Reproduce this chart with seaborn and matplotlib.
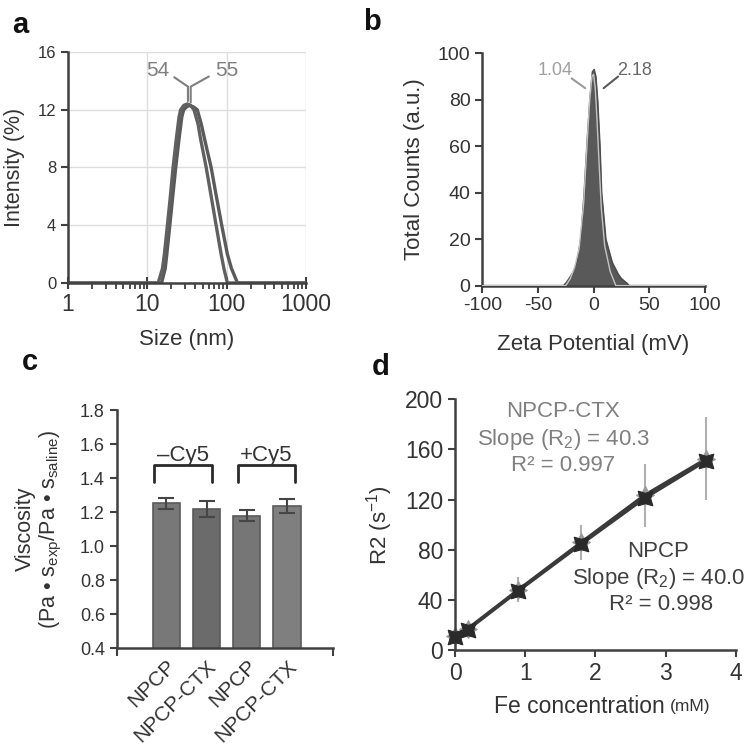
import numpy as np
import pandas as pd
import matplotlib
matplotlib.use("Agg")
import matplotlib.pyplot as plt
import matplotlib.transforms as mtransforms
import seaborn as sns
from matplotlib.ticker import FixedLocator, FormatStrFormatter, NullFormatter

# ---------------- data ----------------
# panel a : DLS size distributions
size_a1 = [1, 13.7, 15.5, 16.4, 17.9, 19.5, 21.1, 23.2, 25.1, 26.3, 28.8, 31.9, 35.1, 38.7, 43.6, 46.8,
           55.2, 63.8, 73.6, 85.1, 92.3, 102, 1000]
int_a1 = [0, 0, 1, 2, 4, 6, 8, 10, 11.5, 12, 12.3, 12.4, 12.3, 12, 11, 10,
          8, 6, 4, 2, 1, 0, 0]
size_a2 = [1, 15.1, 16.8, 17.6, 19.2, 20.9, 22.8, 25.1, 27.2, 28.7, 31.3, 34.1, 38.0, 42.6, 47.9, 52.5,
           63.7, 74.1, 86.6, 102, 115, 137, 1000]
int_a2 = [0, 0, 1, 2, 4, 6, 8, 10, 11.5, 12, 12.2, 12.3, 12.2, 12, 11, 10,
          8, 6, 4, 2, 1, 0, 0]
labels_a = ["54", "55"]

# panel b : zeta potential distributions
zeta_dark = [-100, -27, -25, -22, -18, -15, -11.4, -8.4, -6, -3.3, -1, 0.5, 2, 3.6, 5.7, 7.2, 11, 16.7, 22, 25, 30, 32, 100]
counts_dark = [0, 0, 1, 3, 6, 10, 20, 40, 60, 80, 92, 93, 90, 80, 60, 40, 20, 10, 5, 3, 1, 0, 0]
zeta_light = [-100, -25, -21, -17, -13, -9, -6, -3.5, -1.5, 0, 1.5, 3, 5, 7, 10, 15, 20, 100]
counts_light = [0, 0, 3, 8, 16, 35, 60, 80, 90, 91, 85, 72, 52, 33, 17, 6, 0, 0]
labels_b = ["1.04", "2.18"]

# panel c : viscosity
samples_c = ["NPCP", "NPCP-CTX", "NPCP", "NPCP-CTX"]
groups_c = ["\u2013Cy5", "+Cy5"]
visc = [1.252, 1.217, 1.179, 1.236]
visc_err = [0.032, 0.048, 0.033, 0.040]

# panel d : relaxivity
fe_conc = [0, 0.18, 0.9, 1.8, 2.7, 3.58]
r2_npcp = [10.5, 16, 47, 84.5, 121, 151]
r2_ctx = [11.5, 17, 48, 86, 123.5, 152.5]
r2_err = [3, 4, 10, 14, 25, 33]

# ---------------- style ----------------
sns.set_style("ticks")
plt.rcParams["font.family"] = ["Liberation Sans", "DejaVu Sans"]
plt.rcParams["mathtext.fontset"] = "custom"
plt.rcParams["mathtext.rm"] = "Liberation Sans"
plt.rcParams["mathtext.it"] = "Liberation Sans:italic"
plt.rcParams["axes.unicode_minus"] = False

DARK = "#404040"
TXT = "#333333"

fig = plt.figure(figsize=(7.5, 7.49), dpi=100)

def style_axes(ax):
    for s in ["top", "right"]:
        ax.spines[s].set_visible(False)
    for s in ["left", "bottom"]:
        ax.spines[s].set_color(DARK)
        ax.spines[s].set_linewidth(1.8)
    ax.tick_params(colors=DARK, labelcolor=TXT, width=1.5, length=5, direction="out")
    ax.set_facecolor("white")

# ---------------- panel a ----------------
axa = fig.add_axes([0.0907, 0.6222, 0.3173, 0.3084])
style_axes(axa)
axa.set_xscale("log")
axa.set_xlim(1, 1000)
axa.set_ylim(0, 16)
for v in [4, 8, 12, 16]:
    axa.axhline(v, color="#dedede", lw=1, zorder=0)
for v in [10, 100, 1000]:
    axa.axvline(v, color="#dedede", lw=1, zorder=0)
sns.lineplot(x=size_a2, y=int_a2, ax=axa, color="#5a5a5a", lw=2.4, sort=False, estimator=None)
sns.lineplot(x=size_a1, y=int_a1, ax=axa, color="#606060", lw=2.4, sort=False, estimator=None)
axa.xaxis.set_major_locator(FixedLocator([1, 10, 100, 1000]))
axa.set_xticklabels(["1", "10", "100", "1000"])
axa.xaxis.set_minor_formatter(NullFormatter())
axa.set_yticks([0, 4, 8, 12, 16])
axa.tick_params(axis="x", which="major", direction="inout", length=8, labelsize=16.5)
axa.tick_params(axis="x", which="minor", direction="out", length=4, width=1.3, colors=DARK)
axa.tick_params(axis="y", labelsize=12)
axa.set_xlabel("Size (nm)", fontsize=16, color=TXT)
axa.set_ylabel("Intensity (%)", fontsize=15.5, color=TXT)
axa.xaxis.set_label_coords(0.5, -0.2)
axa.yaxis.set_label_coords(-0.18, 0.5)
gray_lbl = "#7f7f7f"
axa.plot([21.8, 32.5, 32.5], [14.25, 13.6, 12.6], color=gray_lbl, lw=1.5, clip_on=False)
axa.plot([59.6, 35.2, 35.2], [14.3, 13.6, 12.5], color=gray_lbl, lw=1.5, clip_on=False)
axa.text(13.7, 14.75, labels_a[0], fontsize=15, color=gray_lbl, ha="center", va="center")
axa.text(100, 14.75, labels_a[1], fontsize=15, color=gray_lbl, ha="center", va="center")

# ---------------- panel b ----------------
axb = fig.add_axes([0.643, 0.6186, 0.2969, 0.3102])
style_axes(axb)
axb.set_xlim(-100, 100)
axb.set_ylim(0, 100)
axb.fill_between(zeta_light, counts_light, color="#cfcfcf", lw=0, zorder=1)
axb.fill_between(zeta_dark, counts_dark, color="#595959", lw=0, zorder=2)
sns.lineplot(x=zeta_dark, y=counts_dark, ax=axb, color="#4d4d4d", lw=1.2, sort=False, estimator=None, zorder=3)
sns.lineplot(x=zeta_light, y=counts_light, ax=axb, color="#c4c4c4", lw=1.0, sort=False, estimator=None, zorder=4)
axb.set_xticks([-100, -50, 0, 50, 100])
axb.set_yticks([0, 20, 40, 60, 80, 100])
axb.tick_params(labelsize=14)
axb.set_xlabel("Zeta Potential (mV)", fontsize=16, color=TXT)
axb.set_ylabel("Total Counts (a.u.)", fontsize=16, color=TXT)
axb.xaxis.set_label_coords(0.5, -0.21)
axb.yaxis.set_label_coords(-0.255, 0.5)
axb.plot([-19.7, -7.5], [89.2, 85], color="#9a9a9a", lw=1.5)
axb.plot([22, 9], [90, 85], color="#5a5a5a", lw=1.5)
axb.text(-34.7, 92.8, labels_b[0], fontsize=13, color="#a0a0a0", ha="center", va="center")
axb.text(37, 92.8, labels_b[1], fontsize=13, color="#6a6a6a", ha="center", va="center")

# ---------------- panel c ----------------
axc = fig.add_axes([0.1556, 0.1344, 0.2884, 0.3182])
style_axes(axc)
keys_c = [f"{i}" for i in range(len(visc))]
df_c = pd.DataFrame({"key": keys_c, "visc": visc})
bar_colors = ["#787878", "#6b6b6b", "#767676", "#7f7f7f"]
sns.barplot(data=df_c, x="key", y="visc", hue="key", palette=bar_colors, legend=False,
            width=0.68, ax=axc, edgecolor="#5a5a5a", linewidth=1.2, errorbar=None)
axc.errorbar(range(len(visc)), visc, yerr=visc_err, fmt="none", ecolor="#454545",
             elinewidth=1.5, capsize=6, capthick=1.5, zorder=5)
axc.set_xlim(-1.23, 4.14)
axc.set_ylim(0.4, 1.8)
axc.set_yticks(np.arange(0.4, 1.81, 0.2))
axc.yaxis.set_major_formatter(FormatStrFormatter("%.1f"))
axc.set_xticks(range(len(visc)))
axc.set_xticklabels(samples_c, rotation=45, ha="right", rotation_mode="anchor", fontsize=15, color=TXT)
shift = mtransforms.ScaledTranslation(5 / 72, 1.5 / 72, fig.dpi_scale_trans)
for t in axc.get_xticklabels():
    t.set_transform(t.get_transform() + shift)
axc.tick_params(axis="x", length=0, pad=6)
axc.tick_params(axis="y", labelsize=13)
axc.set_xticks([-1.23, 4.14], minor=True)
axc.tick_params(axis="x", which="minor", length=6, width=1.5, colors=DARK)
axc.set_xlabel("")
axc.set_ylabel("Viscosity\n(Pa \u2022 s$_{\\mathrm{exp}}$/Pa \u2022 s$_{\\mathrm{saline}}$)",
               fontsize=15.5, color=TXT, linespacing=1.1)
axc.yaxis.set_label_coords(-0.245, 0.5)
for (x0, x1), g in zip([(-0.305, 1.134), (1.77, 3.19)], groups_c):
    axc.plot([x0, x0, x1, x1], [1.379, 1.477, 1.477, 1.379], color="#2a2a2a", lw=2)
    axc.text((x0 + x1) / 2, 1.53, g, fontsize=16, color=TXT, ha="center", va="center")

# ---------------- panel d ----------------
axd = fig.add_axes([0.6067, 0.1322, 0.3743, 0.3347])
style_axes(axd)
axd.set_xlim(0, 4)
axd.set_ylim(0, 200)
axd.errorbar(fe_conc, r2_ctx, yerr=r2_err, fmt="none", ecolor="#b0b0b0", elinewidth=1.5, zorder=1)
sns.lineplot(x=fe_conc, y=r2_ctx, ax=axd, color="#3a3a3a", lw=2.2, marker=(4, 1, 0),
             markersize=13, markeredgecolor="#9a9a9a", markerfacecolor="#9a9a9a",
             sort=False, estimator=None, zorder=2)
sns.lineplot(x=fe_conc, y=r2_npcp, ax=axd, color="#3a3a3a", lw=2.2, marker=(4, 1, 45),
             markersize=15, markeredgecolor="#2a2a2a", markerfacecolor="#2a2a2a",
             sort=False, estimator=None, zorder=3)
for ln in axd.lines:
    ln.set_clip_on(False)
axd.set_xticks([0, 1, 2, 3, 4])
axd.set_yticks([0, 40, 80, 120, 160, 200])
axd.tick_params(labelsize=16.5)
axd.set_ylabel("R2 (s$^{\\mathrm{-1}}$)", fontsize=16, color=TXT)
axd.yaxis.set_label_coords(-0.215, 0.5)
fig.text(0.887, 0.0565, "Fe concentration", fontsize=16.5, color=TXT, ha="right", va="center")
fig.text(0.893, 0.0565, "(mM)", fontsize=12.5, color=TXT, ha="left", va="center")
lc = "#808080"
axd.text(1.543, 190, "NPCP-CTX", fontsize=16, color=lc, ha="center", va="center")
axd.text(1.543, 168, "Slope (R$_2$) = 40.3", fontsize=16, color=lc, ha="center", va="center")
axd.text(1.543, 147, "R\u00b2 = 0.997", fontsize=16, color=lc, ha="center", va="center")
axd.text(2.896, 78.4, "NPCP", fontsize=16, color=DARK, ha="center", va="center")
axd.text(2.896, 57.2, "Slope (R$_2$) = 40.0", fontsize=16, color=DARK, ha="center", va="center")
axd.text(2.93, 36, "R\u00b2 = 0.998", fontsize=16, color=DARK, ha="center", va="center")

# ---------------- panel letters ----------------
for lbl, x, y in [("a", 0.027, 0.967), ("b", 0.496, 0.97), ("c", 0.04, 0.517), ("d", 0.507, 0.51)]:
    fig.text(x, y, lbl, fontsize=21, fontweight="bold", color="#111111", ha="center", va="center")

fig.savefig("out.png", dpi=100, facecolor="white")
